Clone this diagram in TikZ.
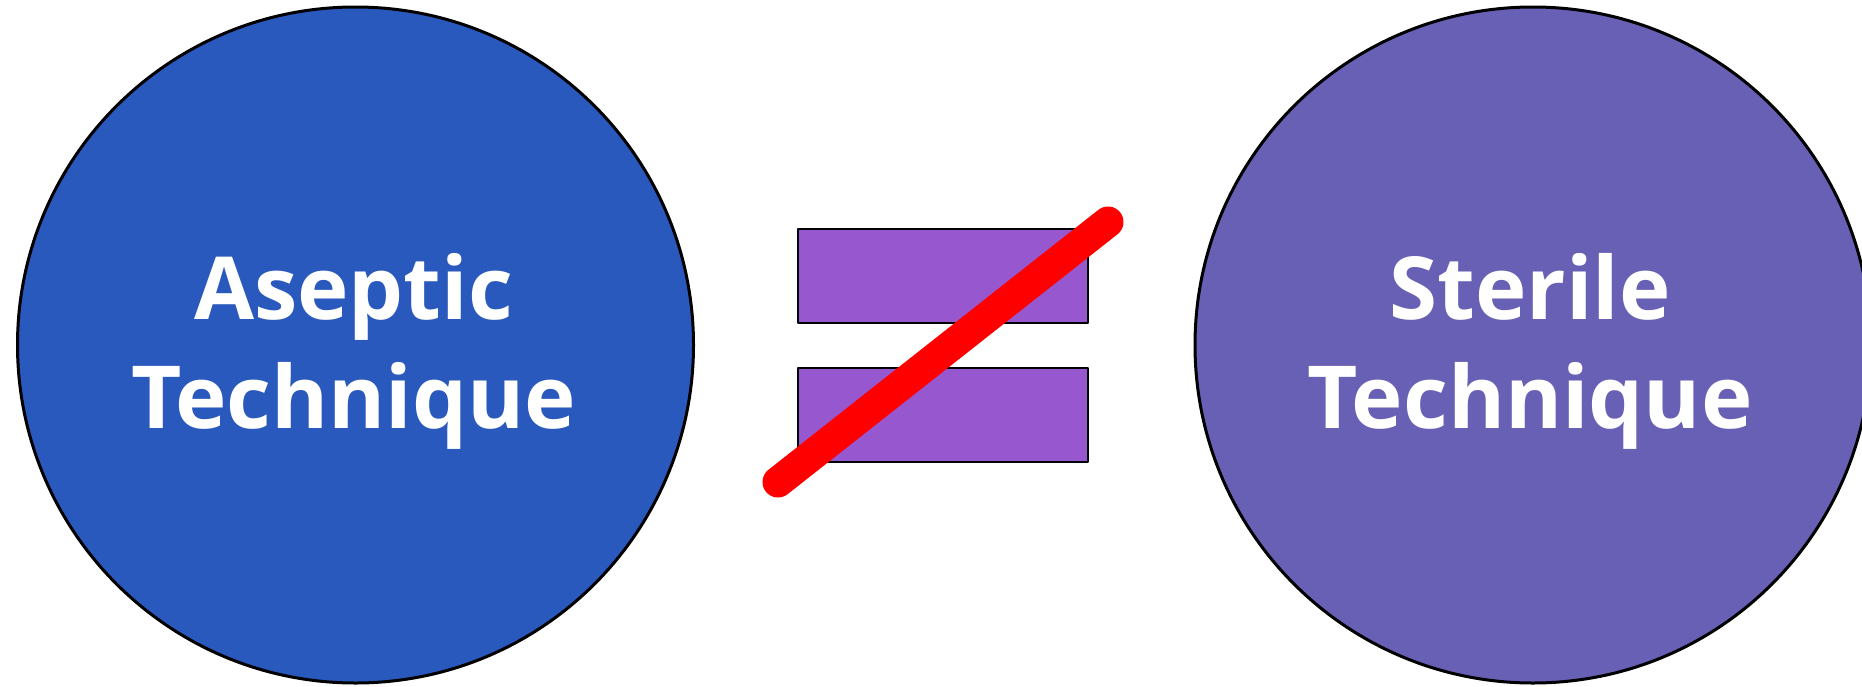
\documentclass[tikz,border=0pt]{standalone}
\usepackage{fontspec}
\setmainfont{Open Sans}
\definecolor{asepblue}{HTML}{2A59BE}
\definecolor{sterpurple}{HTML}{6760B5}
\definecolor{barpurple}{HTML}{9757CF}
\definecolor{slashred}{HTML}{FF0000}
\begin{document}
\begin{tikzpicture}[x=0.5pt,y=-0.5pt,
  bigcircle/.style={circle,draw=black,line width=1.5pt,inner sep=0pt,
    minimum size=338pt},
  labeltext/.style={text=white,align=center,inner sep=0pt,
    font=\fontsize{43.5}{54.5}\selectfont\bfseries},
  bar/.style={draw=black,line width=1.4pt,line join=round,fill=barpurple},
  slash/.style={draw=slashred,line width=15.5pt,line cap=round}]
\useasboundingbox (0,0) rectangle (1862,686);
\clip (0,0) rectangle (1862,686);
\node[bigcircle,fill=asepblue] (asep) at (355.5,345) {};
\node[bigcircle,fill=sterpurple] (ster) at (1533,345) {};
\node[labeltext] (aseplabel) at ([xshift=-1pt,yshift=-3pt]asep.center) {Aseptic\\Technique};
\node[labeltext] (sterlabel) at ([xshift=-1.5pt,yshift=-3pt]ster.center) {Sterile\\Technique};
\draw[bar] (798,229) rectangle (1088,323) coordinate (topbar);
\draw[bar] (798,368) rectangle (1088,462) coordinate (botbar);
\coordinate (s1) at (778,482);
\coordinate (s2) at (1108,222);
\draw[slash] (s1) -- (s2);
\end{tikzpicture}
\end{document}
